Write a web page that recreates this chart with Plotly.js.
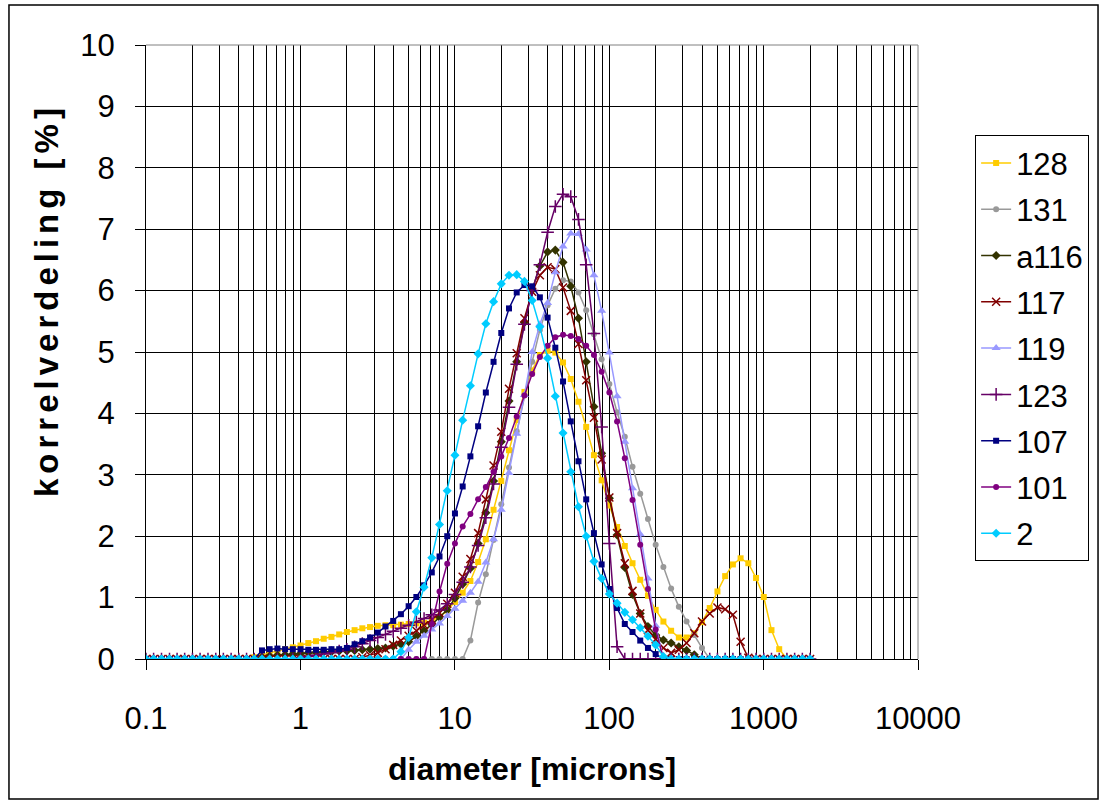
<!DOCTYPE html>
<html><head><meta charset="utf-8">
<script src="https://cdn.plot.ly/plotly-3.0.1.min.js"></script>
<style>html,body{margin:0;padding:0;background:#fff}#chart{width:1102px;height:803px}
.annotation-text{letter-spacing:5px}</style>
</head><body><div id="chart"></div>
<script>
const diameter = [0.1,0.112,0.126,0.142,0.159,0.178,0.2,0.224,0.252,0.283,0.317,0.356,0.399,0.448,0.502,0.564,0.632,0.71,0.796,0.893,1.002,1.125,1.262,1.416,1.589,1.783,2.0,2.244,2.518,2.825,3.17,3.557,3.991,4.477,5.024,5.637,6.325,7.096,7.962,8.934,10.024,11.247,12.619,14.159,15.887,17.825,20.0,22.44,25.179,28.251,31.698,35.566,39.905,44.774,50.238,56.368,63.246,70.963,79.621,89.337,100.237,112.468,126.191,141.589,158.866,178.25,200.0,224.404,251.785,282.508,316.979,355.656,399.052,447.744,502.377,563.677,632.456,709.627,796.214,893.367,1002.374,1124.683,1261.915,1415.892,1588.656,1782.502,2000.0];

const s128 = [0,0,0,0,0,0,0,0,0,0,0,0,0,0,0.03,0.07,0.1,0.13,0.16,0.19,0.22,0.26,0.29,0.33,0.36,0.4,0.44,0.47,0.5,0.52,0.54,0.55,0.55,0.56,0.57,0.58,0.59,0.62,0.69,0.79,0.93,1.08,1.27,1.58,1.95,2.43,2.9,3.4,3.89,4.35,4.7,4.95,5.02,4.99,4.83,4.56,4.19,3.78,3.32,2.91,2.5,2.15,1.84,1.56,1.29,1.03,0.8,0.61,0.46,0.35,0.35,0.42,0.6,0.83,1.1,1.35,1.54,1.64,1.56,1.32,1.01,0.47,0.16,0,0,0,0];
const s131 = [0,0,0,0,0,0,0,0,0,0,0,0,0,0,0,0,0,0,0,0,0,0,0,0,0,0,0,0,0,0,0,0,0,0,0,0,0,0,0,0,0,0,0.3,0.92,1.38,1.94,2.52,3.12,3.71,4.3,4.84,5.36,5.76,6.03,6.17,6.15,5.97,5.68,5.29,4.88,4.48,4.02,3.62,3.13,2.69,2.28,1.86,1.5,1.15,0.85,0.61,0.39,0.18,0,0,0,0,0,0,0,0,0,0,0,0,0,0];
const sA116 = [0,0,0,0,0,0,0,0,0,0,0,0,0,0,0,0.03,0.05,0.06,0.07,0.08,0.09,0.1,0.11,0.12,0.12,0.13,0.13,0.14,0.15,0.16,0.17,0.18,0.21,0.24,0.28,0.37,0.46,0.56,0.68,0.8,0.99,1.22,1.48,1.88,2.38,2.9,3.54,4.2,4.84,5.48,6.01,6.4,6.63,6.66,6.46,6.07,5.55,4.84,4.11,3.35,2.62,2.02,1.49,1.05,0.74,0.53,0.39,0.31,0.26,0.2,0.14,0.07,0,0,0,0,0,0,0,0,0,0,0,0,0,0,0];
const s117 = [0,0,0,0,0,0,0,0,0,0,0,0,0,0,0,0,0,0,0,0,0,0,0,0,0,0,0,0,0.03,0.06,0.1,0.16,0.23,0.3,0.38,0.46,0.55,0.64,0.75,0.9,1.08,1.34,1.63,2.05,2.6,3.15,3.7,4.4,4.98,5.55,5.98,6.25,6.38,6.35,6.05,5.67,5.13,4.54,3.93,3.25,2.63,2.05,1.56,1.11,0.74,0.47,0.32,0.18,0.1,0.15,0.26,0.42,0.61,0.74,0.84,0.81,0.72,0.28,0.02,0,0,0,0,0,0,0,0];
const s119 = [0,0,0,0,0,0,0,0,0,0,0,0,0,0,0,0,0,0,0,0,0,0,0,0,0,0,0,0,0,0,0,0,0,0,0.15,0.28,0.38,0.48,0.58,0.7,0.82,0.95,1.08,1.26,1.57,1.95,2.43,3.03,3.67,4.3,5.0,5.45,5.8,6.3,6.72,6.93,6.92,6.67,6.25,5.67,4.99,4.28,3.54,2.78,2.03,1.31,0.54,0,0,0,0,0,0,0,0,0,0,0,0,0,0,0,0,0,0,0,0];
const s123 = [0,0,0,0,0,0,0,0,0,0,0,0,0,0,0,0,0,0,0,0,0.02,0.04,0.06,0.08,0.1,0.13,0.16,0.2,0.25,0.3,0.35,0.4,0.45,0.5,0.55,0.6,0.66,0.72,0.8,0.9,1.05,1.25,1.5,1.85,2.3,2.85,3.45,4.1,4.8,5.45,6.0,6.42,6.95,7.37,7.57,7.53,7.16,6.42,5.3,3.78,1.88,0.2,0,0,0,0,0,0,0,0,0,0,0,0,0,0,0,0,0,0,0,0,0,0,0,0,0];
const s107 = [0,0,0,0,0,0,0,0,0,0,0,0,0,0,0,0.14,0.16,0.17,0.16,0.16,0.16,0.15,0.15,0.15,0.16,0.16,0.18,0.24,0.29,0.35,0.43,0.53,0.62,0.73,0.86,1.01,1.2,1.41,1.67,2.0,2.37,2.81,3.3,3.79,4.34,4.84,5.31,5.71,5.97,6.09,6.07,5.89,5.56,5.07,4.52,3.87,3.22,2.6,2.05,1.54,1.14,0.83,0.57,0.44,0.3,0.18,0.08,0,0,0,0,0,0,0,0,0,0,0,0,0,0,0,0,0,0,0,0];
const s101 = [0,0,0,0,0,0,0,0,0,0,0,0,0,0,0,0,0,0,0,0,0,0,0,0,0,0,0,0,0,0,0,0,0,0,0,0,0,0.57,1.1,1.55,1.88,2.16,2.36,2.6,2.8,3.05,3.3,3.6,3.95,4.29,4.64,4.92,5.1,5.24,5.28,5.26,5.21,5.1,4.95,4.68,4.34,3.87,3.27,2.59,1.86,1.14,0.48,0,0,0,0,0,0,0,0,0,0,0,0,0,0,0,0,0,0,0,0];
const s2 = [0,0,0,0,0,0,0,0,0,0,0,0,0,0,0,0,0,0,0,0,0,0,0,0,0,0,0,0,0,0,0,0,0,0.12,0.35,0.77,1.17,1.65,2.19,2.74,3.32,3.89,4.45,4.97,5.46,5.82,6.11,6.25,6.26,6.15,5.84,5.41,4.9,4.28,3.68,3.05,2.48,2.0,1.59,1.31,1.06,0.91,0.76,0.64,0.51,0.37,0.23,0.04,0,0,0,0,0,0,0,0,0,0,0,0,0,0,0,0,0,0,0];

const seriesNames = ['128','131','a116','117','119','123','107','101','2'];
const seriesValues = [s128, s131, sA116, s117, s119, s123, s107, s101, s2];
const seriesColors = ['#FFCC00','#999999','#333300','#800000','#9999FF','#660066','#000080','#800080','#00CCFF'];
const seriesSymbols = ['square','circle','diamond','x-thin','triangle-up','cross-thin','square','circle','diamond'];
const markerSizes = [6,6,7,8,8,9,6,6,7];
const xTickVals = [0.1,1,10,100,1000,10000];
const xTickText = ['0.1','1','10','100','1000','10000'];
const xTitle = 'diameter [microns]';
const yTitle = 'korrelverdeling [%]';

const FONT = 'Liberation Sans, Arial, sans-serif';

const traces = seriesNames.map((n, k) => {
  const thin = seriesSymbols[k].indexOf('thin') >= 0;
  return {
    type: 'scatter', mode: 'lines+markers', name: n, legendgroup: n,
    x: diameter, y: seriesValues[k],
    line: {color: seriesColors[k], width: 1.5},
    marker: {symbol: seriesSymbols[k], size: markerSizes[k], color: seriesColors[k],
             line: {color: seriesColors[k], width: thin ? 1.5 : 0}}
  };
});

const layout = {
  width: 1102, height: 803,
  margin: {l: 146, r: 184, t: 45, b: 144},
  paper_bgcolor: '#fff', plot_bgcolor: '#fff',
  font: {family: FONT, color: '#000', size: 31},
  showlegend: true,
  legend: {x: 1.074, y: 0.853, xanchor: 'left', yanchor: 'top',
           bordercolor: '#000', borderwidth: 1, bgcolor: '#fff',
           font: {family: FONT, size: 31, color: '#000'}, tracegroupgap: 3, itemwidth: 30},
  xaxis: {
    type: 'log', range: [-1, 4],
    tickmode: 'array', tickvals: xTickVals, ticktext: xTickText,
    showgrid: true, gridcolor: '#000', gridwidth: 1,
    minor: {dtick: 'D1', showgrid: true, gridcolor: '#000', gridwidth: 1, ticks: ''},
    ticks: 'outside', ticklen: 10, tickcolor: '#000', tickwidth: 1,
    showline: true, linecolor: '#000', linewidth: 1, zeroline: false,
    tickfont: {family: FONT, size: 31, color: '#000'}, ticklabelstandoff: 22,
    title: {text: '<b>' + xTitle + '</b>', font: {family: FONT, size: 32, color: '#000'}, standoff: 22}
  },
  yaxis: {
    range: [0, 10], dtick: 1, tick0: 0,
    showgrid: true, gridcolor: '#000', gridwidth: 1,
    ticks: 'outside', ticklen: 10, tickcolor: '#000', tickwidth: 1,
    showline: true, linecolor: '#000', linewidth: 1, zeroline: false,
    tickfont: {family: FONT, size: 31, color: '#000'}, ticklabelstandoff: 14
  },
  annotations: [
    {text: '<b>' + yTitle + '</b>', textangle: -90, showarrow: false,
     xref: 'paper', yref: 'paper', x: -0.1282, y: 0.5847, xanchor: 'center', yanchor: 'middle',
     font: {family: FONT, size: 33, color: '#000'}}
  ],
  shapes: [
    {type: 'rect', xref: 'paper', yref: 'paper', x0: -0.1775, x1: 1.2332, y0: -0.228, y1: 1.0651,
     line: {color: '#000', width: 1.5}, fillcolor: 'rgba(0,0,0,0)', layer: 'below'},
    {type: 'line', xref: 'paper', yref: 'paper', x0: 0, x1: 1, y0: 1, y1: 1, line: {color: '#808080', width: 1}},
    {type: 'line', xref: 'paper', yref: 'paper', x0: 1, x1: 1, y0: 0, y1: 1, line: {color: '#808080', width: 1}}
  ]
};

Plotly.newPlot('chart', traces, layout, {displayModeBar: false, staticPlot: true});
</script></body></html>
